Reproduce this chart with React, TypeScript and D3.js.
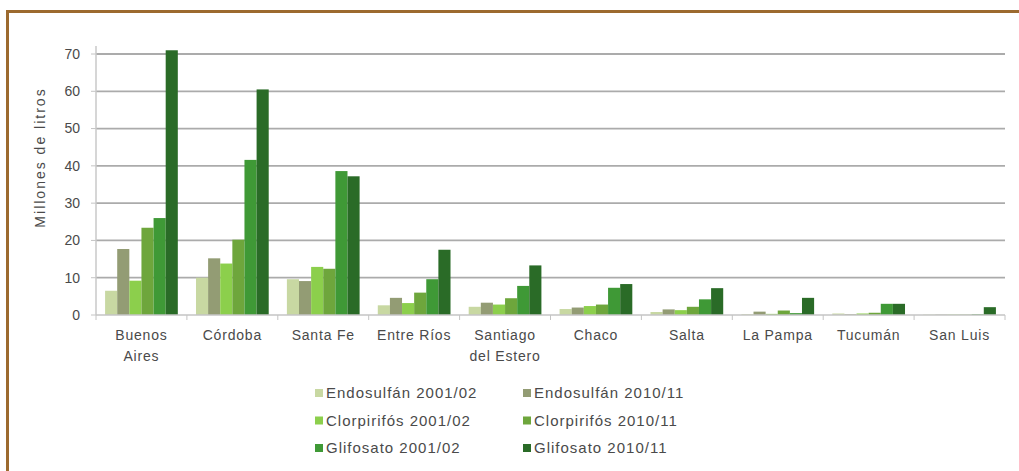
import React from "react";
import * as d3 from "d3";

const categories = ["Buenos Aires", "Córdoba", "Santa Fe", "Entre Ríos", "Santiago del Estero", "Chaco", "Salta", "La Pampa", "Tucumán", "San Luis"];
const categoryLines = [["Buenos", "Aires"], ["Córdoba"], ["Santa Fe"], ["Entre Ríos"], ["Santiago", "del Estero"], ["Chaco"], ["Salta"], ["La Pampa"], ["Tucumán"], ["San Luis"]];

const endosulfan2001 = [6.5, 10, 9.6, 2.6, 2.2, 1.6, 0.8, 0.2, 0.4, 0.1];
const endosulfan2010 = [17.7, 15.2, 9.1, 4.6, 3.3, 2.0, 1.5, 0.9, 0.2, 0.1];
const clorpirifos2001 = [9.2, 13.8, 12.9, 3.2, 2.8, 2.4, 1.3, 0.3, 0.4, 0.1];
const clorpirifos2010 = [23.4, 20.2, 12.4, 6.0, 4.5, 2.8, 2.2, 1.2, 0.6, 0.1];
const glifosato2001 = [26, 41.6, 38.6, 9.6, 7.8, 7.3, 4.2, 0.5, 3.0, 0.2];
const glifosato2010 = [71, 60.5, 37.2, 17.5, 13.3, 8.3, 7.2, 4.6, 3.0, 2.1];

const seriesNames = ["Endosulfán 2001/02", "Endosulfán 2010/11", "Clorpirifós 2001/02", "Clorpirifós 2010/11", "Glifosato 2001/02", "Glifosato 2010/11"];
const seriesValues = [endosulfan2001, endosulfan2010, clorpirifos2001, clorpirifos2010, glifosato2001, glifosato2010];
const seriesColors = ["#c8d8a2", "#939c74", "#8ccf4c", "#6ea63c", "#3f9936", "#2a6b27"];
const yTicks = [0, 10, 20, 30, 40, 50, 60, 70];

const W = 1019;
const H = 471;
const left = 96;
const right = 1005;
const top = 54;
const bottom = 315;
const font = "Liberation Sans, Arial, sans-serif";
const textColor = "#4a4a4a";

export default function App() {
  const x0 = d3.scaleBand<string>().domain(categories).range([left, right]).paddingInner(0.2).paddingOuter(0.1);
  const x1 = d3.scaleBand<number>().domain(d3.range(seriesNames.length)).range([0, x0.bandwidth()]);
  const y = d3.scaleLinear().domain([0, 70]).range([bottom, top]);
  const step = (right - left) / categories.length;

  return (
    <svg width={W} height={H} style={{ position: "absolute", left: 0, top: 0, background: "#fff" }} fontFamily={font}>
      <rect x={0} y={0} width={W} height={H} fill="#fff" />
      <rect x={7.5} y={11.5} width={W + 20} height={H + 20} fill="none" stroke="#9c6a2f" strokeWidth={3} />
      {yTicks.map((t) => (
        <g key={t}>
          {t > 0 && <line x1={left} x2={right} y1={y(t)} y2={y(t)} stroke="#ababab" strokeWidth={1.8} />}
          <line x1={left - 5} x2={left} y1={y(t)} y2={y(t)} stroke="#c4c4c4" strokeWidth={1} />
          <text x={80} y={y(t)} dy="0.35em" textAnchor="end" fontSize={14} fill={textColor}>{t}</text>
        </g>
      ))}
      <line x1={left} x2={left} y1={top - 8} y2={bottom} stroke="#c8c8c8" strokeWidth={1.5} />
      {categories.map((c, i) => (
        <g key={c}>
          {seriesValues.map((vals, s) => (
            <rect key={s} x={(x0(c) as number) + (x1(s) as number)} y={y(vals[i])} width={x1.bandwidth()} height={bottom - y(vals[i])} fill={seriesColors[s]} />
          ))}
        </g>
      ))}
      <line x1={left} x2={right} y1={bottom} y2={bottom} stroke="#c4c4c4" strokeWidth={1.5} />
      {d3.range(categories.length + 1).map((k) => (
        <line key={k} x1={left + k * step} x2={left + k * step} y1={bottom} y2={bottom + 5} stroke="#c4c4c4" strokeWidth={1} />
      ))}
      {categories.map((c, i) => (
        <text key={c} x={(x0(c) as number) + x0.bandwidth() / 2} y={340} textAnchor="middle" fontSize={14} fill={textColor} letterSpacing={0.8}>
          {categoryLines[i].map((ln, j) => (
            <tspan key={j} x={(x0(c) as number) + x0.bandwidth() / 2} dy={j === 0 ? 0 : 21}>{ln}</tspan>
          ))}
        </text>
      ))}
      <text transform={`translate(45,${(top + bottom) / 2 - 27}) rotate(-90)`} textAnchor="middle" fontSize={14} fill={textColor} letterSpacing={2}>Millones de litros</text>
      {seriesNames.map((n, s) => {
        const col = s % 2;
        const row = Math.floor(s / 2);
        const lx = col === 0 ? 315 : 523;
        const ly = 393 + row * 27.5;
        return (
          <g key={n}>
            <rect x={lx} y={ly - 4} width={8} height={8} fill={seriesColors[s]} />
            <text x={lx + 11} y={ly} dy="0.35em" fontSize={15} fill={textColor} letterSpacing={1.0}>{n}</text>
          </g>
        );
      })}
    </svg>
  );
}
